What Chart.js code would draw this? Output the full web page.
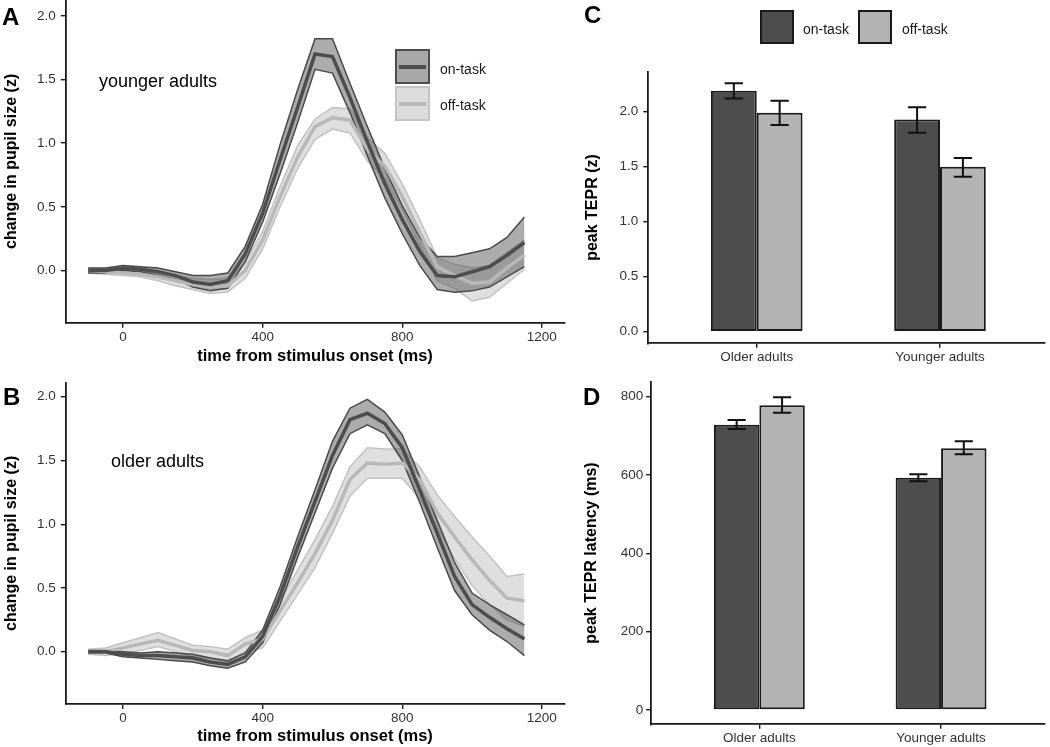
<!DOCTYPE html>
<html>
<head>
<meta charset="utf-8">
<script src="https://cdn.jsdelivr.net/npm/chart.js@4.4.1/dist/chart.umd.min.js"></script>
<style>
  body { margin: 0; background: #fff; font-family: "Liberation Sans", Arial, Helvetica, sans-serif; }
  #fig { position: relative; width: 1050px; height: 747px; overflow: hidden; }
  #fig canvas { position: absolute; }
  .tag { position: absolute; font-weight: bold; font-size: 24px; line-height: 1; color: #000; }
  .note { position: absolute; font-size: 18px; line-height: 1; color: #000; white-space: nowrap; }
  .lab { position: absolute; font-size: 14px; line-height: 1; color: #1a1a1a; white-space: nowrap; }
  .key { position: absolute; box-sizing: border-box; }
  .key span { position: absolute; left: 2px; right: 2px; top: 50%; height: 4px; margin-top: -2px; }
</style>
</head>
<body>
<div id="fig">
  <canvas id="chartA" width="580" height="370" style="left:0;top:0"></canvas>
  <canvas id="chartB" width="580" height="377" style="left:0;top:370px"></canvas>
  <canvas id="chartC" width="470" height="370" style="left:580px;top:0"></canvas>
  <canvas id="chartD" width="470" height="377" style="left:580px;top:370px"></canvas>

  <div class="tag" style="left:2px;top:5px">A</div>
  <div class="tag" style="left:3px;top:385px">B</div>
  <div class="tag" style="left:584px;top:3px">C</div>
  <div class="tag" style="left:583px;top:385px">D</div>

  <div class="note" style="left:99px;top:71.5px">younger adults</div>
  <div class="note" style="left:111px;top:452px">older adults</div>

  <div class="key" style="left:395px;top:49px;width:35px;height:35px;border:2px solid #4d4d4d;background:#a8a8a8"><span style="background:#4d4d4d"></span></div>
  <div class="key" style="left:395px;top:86px;width:35px;height:35px;border:2px solid #c4c4c4;background:#dcdcdc"><span style="background:#b8b8b8"></span></div>
  <div class="lab" style="left:440px;top:61.5px">on-task</div>
  <div class="lab" style="left:440px;top:97.5px">off-task</div>

  <div class="key" style="left:760px;top:10px;width:34px;height:34px;border:2px solid #1a1a1a;background:#4d4d4d"></div>
  <div class="key" style="left:858px;top:10px;width:34px;height:34px;border:2px solid #1a1a1a;background:#b3b3b3"></div>
  <div class="lab" style="left:803px;top:21.5px">on-task</div>
  <div class="lab" style="left:902px;top:21.5px">off-task</div>
</div>

<script>
// time axis of the pupil traces (ms from stimulus onset)
const times = [-100, -50, 0, 50, 100, 150, 200, 250, 300, 350, 400, 450, 500, 550, 600, 650, 700, 750, 800, 850, 900, 950, 1000, 1050, 1100, 1150];

// panel A: younger adults
const youngOnMean  = [0.00, 0.00, 0.02, 0.01, -0.01, -0.04, -0.09, -0.11, -0.08, 0.13, 0.45, 0.87, 1.28, 1.70, 1.68, 1.36, 1.01, 0.68, 0.40, 0.15, -0.04, -0.05, -0.01, 0.03, 0.12, 0.22];
const youngOnUpper = [0.02, 0.02, 0.04, 0.03, 0.02, -0.01, -0.04, -0.04, -0.02, 0.19, 0.52, 0.99, 1.42, 1.82, 1.82, 1.47, 1.13, 0.80, 0.51, 0.26, 0.11, 0.11, 0.14, 0.17, 0.26, 0.42];
const youngOnLower = [-0.02, -0.02, 0.00, -0.01, -0.04, -0.07, -0.13, -0.16, -0.14, 0.07, 0.38, 0.76, 1.16, 1.58, 1.55, 1.24, 0.90, 0.57, 0.29, 0.04, -0.15, -0.17, -0.16, -0.13, -0.05, 0.03];
const youngOffMean  = [0.00, -0.01, -0.02, -0.03, -0.05, -0.08, -0.11, -0.13, -0.12, 0.00, 0.24, 0.58, 0.89, 1.13, 1.20, 1.18, 0.95, 0.82, 0.58, 0.30, 0.03, -0.04, -0.10, -0.09, 0.02, 0.12];
const youngOffUpper = [0.02, 0.01, 0.00, -0.01, -0.02, -0.04, -0.06, -0.07, -0.06, 0.06, 0.31, 0.66, 0.98, 1.19, 1.28, 1.27, 1.04, 0.92, 0.68, 0.40, 0.10, 0.05, 0.02, 0.04, 0.14, 0.24];
const youngOffLower = [-0.02, -0.03, -0.04, -0.05, -0.08, -0.12, -0.15, -0.18, -0.17, -0.06, 0.17, 0.50, 0.80, 1.03, 1.11, 1.08, 0.86, 0.72, 0.48, 0.20, -0.08, -0.14, -0.24, -0.21, -0.10, 0.01];

// panel B: older adults
const olderOnMean  = [0.00, 0.00, -0.02, -0.03, -0.03, -0.04, -0.05, -0.08, -0.10, -0.04, 0.12, 0.44, 0.82, 1.18, 1.54, 1.82, 1.87, 1.79, 1.60, 1.27, 0.93, 0.59, 0.37, 0.27, 0.18, 0.10];
const olderOnUpper = [0.01, 0.01, 0.00, -0.01, 0.00, -0.01, -0.02, -0.05, -0.07, -0.01, 0.17, 0.51, 0.90, 1.27, 1.65, 1.91, 1.98, 1.88, 1.70, 1.37, 1.03, 0.70, 0.46, 0.37, 0.29, 0.21];
const olderOnLower = [-0.01, -0.01, -0.04, -0.05, -0.06, -0.07, -0.08, -0.11, -0.13, -0.08, 0.07, 0.37, 0.74, 1.09, 1.44, 1.71, 1.78, 1.71, 1.50, 1.17, 0.82, 0.48, 0.29, 0.17, 0.08, -0.03];
const olderOffMean  = [0.00, 0.00, 0.03, 0.06, 0.09, 0.05, 0.01, 0.00, -0.03, 0.06, 0.10, 0.32, 0.54, 0.77, 1.03, 1.35, 1.48, 1.47, 1.48, 1.35, 1.09, 0.90, 0.72, 0.56, 0.42, 0.40];
const olderOffUpper = [0.02, 0.03, 0.07, 0.11, 0.15, 0.10, 0.05, 0.04, 0.02, 0.11, 0.17, 0.40, 0.64, 0.88, 1.14, 1.45, 1.60, 1.59, 1.59, 1.45, 1.23, 1.06, 0.90, 0.75, 0.59, 0.61];
const olderOffLower = [-0.02, -0.03, -0.01, 0.01, 0.04, 0.00, -0.04, -0.05, -0.08, 0.00, 0.03, 0.24, 0.45, 0.66, 0.93, 1.22, 1.36, 1.36, 1.36, 1.20, 0.97, 0.73, 0.52, 0.37, 0.25, 0.20];

// panels C and D: group means with error bars
const groups = ["Older adults", "Younger adults"];
const peakOn = [2.19, 1.93];
const peakOnLow = [2.12, 1.81];
const peakOnHigh = [2.26, 2.04];
const peakOff = [1.99, 1.50];
const peakOffLow = [1.88, 1.41];
const peakOffHigh = [2.10, 1.58];
const latencyOn = [728, 593];
const latencyOnLow = [717, 584];
const latencyOnHigh = [740, 602];
const latencyOff = [778, 668];
const latencyOffLow = [759, 653];
const latencyOffHigh = [798, 686];

// tick labels
const timeTicks = [0, 400, 800, 1200];
const pupilTicks = [0, 0.5, 1.0, 1.5, 2.0];
const peakTicks = [0, 0.5, 1.0, 1.5, 2.0];
const latencyTicks = [0, 200, 400, 600, 800];

const fontFamily = '"Liberation Sans", Arial, Helvetica, sans-serif';
const ink = "#1a1a1a";
const tickInk = "#333333";

const onLook = { line: "#4d4d4d", edge: "#4a4a4a", fill: "rgba(70,70,70,0.45)" };
const offLook = { line: "#b8b8b8", edge: "#c2c2c2", fill: "rgba(175,175,175,0.40)" };

function points(values) {
  return times.map((t, i) => ({ x: t, y: values[i] }));
}

function setTicks(values) {
  return (scale) => {
    scale.ticks = values.map((v) => ({ value: v }));
  };
}

// ribbon = lower edge filled up to the upper edge, plus the mean line
function ribbon(mean, upper, lower, look, depth) {
  return [
    { data: points(upper), borderColor: look.edge, borderWidth: 1.5, pointRadius: 0, fill: false, order: depth + 1 },
    { data: points(lower), borderColor: look.edge, borderWidth: 1.5, pointRadius: 0, fill: "-1", backgroundColor: look.fill, order: depth + 2 },
    { data: points(mean), borderColor: look.line, borderWidth: 3.5, pointRadius: 0, fill: false, order: depth === 6 ? 2 : 1 },
  ];
}

function axis(o) {
  return {
    type: "linear",
    position: o.position,
    min: o.min,
    max: o.max,
    offset: false,
    afterBuildTicks: setTicks(o.ticks),
    afterFit: (scale) => {
      if (o.position === "left") scale.width = o.size;
      else scale.height = o.size;
      scale.paddingTop = 0;
      scale.paddingBottom = 0;
      scale.paddingLeft = 0;
      scale.paddingRight = 0;
    },
    border: { display: true, color: ink, width: 1.8 },
    grid: { display: true, offset: false, drawOnChartArea: false, drawTicks: true, tickLength: o.tickLength, color: ink, lineWidth: 1.4 },
    ticks: {
      padding: o.pad,
      color: tickInk,
      autoSkip: false,
      maxRotation: 0,
      font: { family: fontFamily, size: 13.5 },
      callback: o.format,
    },
    title: o.title
      ? {
          display: true,
          text: o.title,
          color: "#000",
          font: { family: fontFamily, size: o.titleSize, weight: "bold" },
          padding: o.titlePad,
        }
      : { display: false },
  };
}

function baseOptions(canvas, area, scales) {
  return {
    responsive: false,
    animation: false,
    devicePixelRatio: 1,
    events: [],
    layout: { padding: { left: 0, top: area.top, right: canvas.width - area.right, bottom: 0 } },
    plugins: { legend: { display: false }, tooltip: { enabled: false } },
    scales: scales,
  };
}

function tracePanel(id, canvas, area, yMax, on, off) {
  const datasets = [
    ...ribbon(off.mean, off.upper, off.lower, offLook, 6),
    ...ribbon(on.mean, on.upper, on.lower, onLook, 4),
  ];
  return new Chart(document.getElementById(id), {
    type: "line",
    data: { datasets: datasets },
    options: Object.assign(baseOptions(canvas, area, {
      x: axis({
        position: "bottom", min: -164, max: 1264, ticks: timeTicks, size: canvas.height - area.bottom,
        tickLength: 5, pad: 1.5, format: (v) => String(v),
        title: "time from stimulus onset (ms)", titleSize: 16.5, titlePad: { top: 0, bottom: area.xTitlePad },
      }),
      y: axis({
        position: "left", min: -0.41, max: yMax, ticks: pupilTicks, size: area.left,
        tickLength: 5, pad: 5, format: (v) => v.toFixed(1),
        title: "change in pupil size (z)", titleSize: 16, titlePad: { top: 2.4, bottom: 0 },
      }),
    }), { elements: { line: { tension: 0 } } }),
  });
}

const errorBars = {
  id: "errorBars",
  afterDatasetsDraw(chart) {
    const ctx = chart.ctx;
    const yScale = chart.scales.y;
    chart.data.datasets.forEach((ds, i) => {
      chart.getDatasetMeta(i).data.forEach((bar, j) => {
        const hi = yScale.getPixelForValue(ds.errHigh[j]);
        const lo = yScale.getPixelForValue(ds.errLow[j]);
        const half = bar.width * 0.2;
        ctx.save();
        ctx.strokeStyle = "#111";
        ctx.lineWidth = 2;
        ctx.beginPath();
        ctx.moveTo(bar.x, hi);
        ctx.lineTo(bar.x, lo);
        ctx.moveTo(bar.x - half, hi);
        ctx.lineTo(bar.x + half, hi);
        ctx.moveTo(bar.x - half, lo);
        ctx.lineTo(bar.x + half, lo);
        ctx.stroke();
        ctx.restore();
      });
    });
  },
};

function barSet(values, low, high, color) {
  return {
    data: values.map((v, i) => ({ x: i + 1, y: v })),
    errLow: low,
    errHigh: high,
    backgroundColor: color,
    borderColor: ink,
    borderWidth: 2,
    borderSkipped: false,
    categoryPercentage: 0.5,
    barPercentage: 1.0,
  };
}

function barPanel(id, canvas, area, yOpts, sets) {
  return new Chart(document.getElementById(id), {
    type: "bar",
    data: { datasets: sets },
    plugins: [errorBars],
    options: baseOptions(canvas, area, {
      x: axis({
        position: "bottom", min: area.xMin, max: area.xMax, ticks: [1, 2], size: canvas.height - area.bottom,
        tickLength: 4.5, pad: 1.5, format: (v) => groups[v - 1],
      }),
      y: axis(Object.assign({ position: "left", size: area.left, titleSize: 16 }, yOpts)),
    }),
  });
}

tracePanel("chartA", { width: 580, height: 370 }, { left: 65.85, top: 0, right: 564.2, bottom: 322.7, xTitlePad: 3.4 }, 2.124,
  { mean: youngOnMean, upper: youngOnUpper, lower: youngOnLower },
  { mean: youngOffMean, upper: youngOffUpper, lower: youngOffLower });

tracePanel("chartB", { width: 580, height: 377 }, { left: 65.85, top: 12.7, right: 564.2, bottom: 334, xTitlePad: 0.4 }, 2.11,
  { mean: olderOnMean, upper: olderOnUpper, lower: olderOnLower },
  { mean: olderOffMean, upper: olderOffUpper, lower: olderOffLower });

barPanel("chartC", { width: 470, height: 370 }, { left: 67.7, top: 71.7, right: 465, bottom: 343.3, xMin: 0.405, xMax: 2.573 },
  { min: -0.105, max: 2.364, ticks: peakTicks, tickLength: 4.4, pad: 5, format: (v) => v.toFixed(1),
    title: "peak TEPR (z)", titlePad: { top: 2.6, bottom: 0 } },
  [barSet(peakOn, peakOnLow, peakOnHigh, "#4d4d4d"), barSet(peakOff, peakOffLow, peakOffHigh, "#b3b3b3")]);

barPanel("chartD", { width: 470, height: 377 }, { left: 70.7, top: 11.7, right: 465, bottom: 354.3, xMin: 0.402, xMax: 2.572 },
  { min: -36.5, max: 838, ticks: latencyTicks, tickLength: 4.5, pad: 3, format: (v) => String(v),
    title: "peak TEPR latency (ms)", titlePad: { top: 1.6, bottom: 0 } },
  [barSet(latencyOn, latencyOnLow, latencyOnHigh, "#4d4d4d"), barSet(latencyOff, latencyOffLow, latencyOffHigh, "#b3b3b3")]);
</script>
</body>
</html>
